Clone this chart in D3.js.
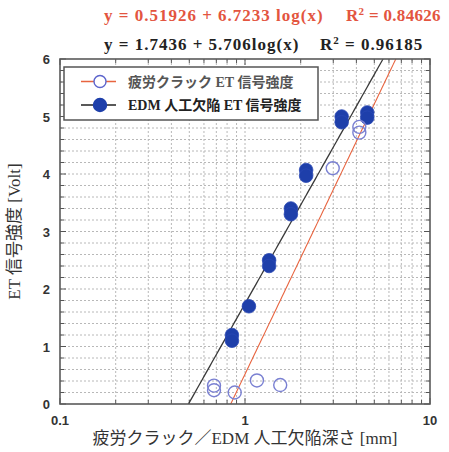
<!DOCTYPE html>
<html>
<head>
<meta charset="utf-8">
<script src="https://cdn.jsdelivr.net/npm/d3@7"></script>
<style>
  html, body { margin: 0; padding: 0; background: #fff; }
  svg { display: block; }
</style>
</head>
<body>
<svg id="chart" width="449" height="452"></svg>
<script>
// Fatigue crack measurements (open circles)
const crackDepth  = [0.68, 0.68, 0.88, 1.16, 1.55, 2.98, 4.15, 4.15];
const crackSignal = [0.32, 0.24, 0.20, 0.41, 0.33, 4.10, 4.82, 4.72];

// EDM artificial defect measurements (filled circles)
const edmDepth  = [0.85, 0.85, 1.05, 1.35, 1.35, 1.77, 1.77, 2.14, 2.14, 3.33, 3.33, 4.58, 4.58];
const edmSignal = [1.20, 1.10, 1.70, 2.50, 2.40, 3.40, 3.30, 4.07, 3.97, 5.00, 4.90, 5.07, 4.98];

// Log fits: y = a + b*log10(x)
const crackFit = [0.51926, 6.7233];
const edmFit   = [1.7436, 5.706];

const yTicks = [0, 1, 2, 3, 4, 5, 6];
const xTicks = [0.1, 1, 10];
const xTickLabels = ["0.1", "1", "10"];

const legendLabels = ["疲労クラック ET 信号強度", "EDM 人工欠陥 ET 信号強度"];
const xTitle = "疲労クラック／EDM 人工欠陥深さ [mm]";
const yTitle = "ET 信号強度 [Volt]";

const svg = d3.select("#chart");
const L = 60, R = 430, T = 59, B = 404;

const x = d3.scaleLog().domain([0.1, 10]).range([L, R]);
const y = d3.scaleLinear().domain([0, 6]).range([B, T]);

const serif = "'Liberation Serif', 'Noto Sans CJK JP', serif";
const sans = "'Liberation Sans', Arial, sans-serif";

// minor positions
const xMinor = [];
for (const dec of [0.1, 1]) for (let k = 1; k <= 9; k++) xMinor.push(dec * k);
xMinor.push(10);
const yMinor = d3.range(0, 30.01, 1).map(d => d / 5);

// grid
const grid = svg.append("g").attr("stroke", "#b8b8b8").attr("stroke-width", 1)
  .attr("stroke-dasharray", "2,2");
grid.selectAll("line.v").data(xMinor.filter(d => d > 0.1 && d < 10)).join("line")
  .attr("x1", d => x(d)).attr("x2", d => x(d)).attr("y1", T).attr("y2", B);
grid.selectAll("line.h").data(yMinor.filter(d => d > 0 && d < 6)).join("line")
  .attr("class", "h")
  .attr("x1", L).attr("x2", R).attr("y1", d => y(d)).attr("y2", d => y(d));

// ticks on all four sides, pointing inward
const tk = svg.append("g").attr("stroke", "#555").attr("stroke-width", 1);
yMinor.forEach(d => {
  const len = Number.isInteger(d) ? 6 : 4;
  tk.append("line").attr("x1", L).attr("x2", L + len).attr("y1", y(d)).attr("y2", y(d));
  tk.append("line").attr("x1", R).attr("x2", R - len).attr("y1", y(d)).attr("y2", y(d));
});
xMinor.forEach(d => {
  const major = xTicks.includes(+d.toFixed(6));
  const len = major ? 6 : 4;
  tk.append("line").attr("x1", x(d)).attr("x2", x(d)).attr("y1", B).attr("y2", B - len);
  tk.append("line").attr("x1", x(d)).attr("x2", x(d)).attr("y1", T).attr("y2", T + len);
});

// fit lines, clipped to the plot
svg.append("clipPath").attr("id", "plotClip").append("rect")
  .attr("x", L).attr("y", T).attr("width", R - L).attr("height", B - T);
const fitLine = (fit) => {
  const [a, b] = fit;
  const xs = d3.range(0, 201).map(i => Math.pow(10, -1 + i / 100));
  return d3.line().x(d => x(d)).y(d => y(a + b * Math.log10(d)))(xs);
};
const lines = svg.append("g").attr("clip-path", "url(#plotClip)").attr("fill", "none");
lines.append("path").attr("d", fitLine(crackFit)).attr("stroke", "#e8643f").attr("stroke-width", 1.1);
lines.append("path").attr("d", fitLine(edmFit)).attr("stroke", "#3a3a3a").attr("stroke-width", 1.3);

// points
svg.append("g").selectAll("circle").data(edmDepth.map((d, i) => [d, edmSignal[i]])).join("circle")
  .attr("cx", d => x(d[0])).attr("cy", d => y(d[1])).attr("r", 6.8)
  .attr("fill", "#1e3faa").attr("stroke", "#2a48b5").attr("stroke-width", 0.8);
svg.append("g").selectAll("circle").data(crackDepth.map((d, i) => [d, crackSignal[i]])).join("circle")
  .attr("cx", d => x(d[0])).attr("cy", d => y(d[1])).attr("r", 6.5)
  .attr("fill", "none").attr("stroke", "#7a80d2").attr("stroke-width", 1.4);

// frame
svg.append("rect").attr("x", L).attr("y", T).attr("width", R - L).attr("height", B - T)
  .attr("fill", "none").attr("stroke", "#5a5a5a").attr("stroke-width", 1.6);

// tick labels
svg.append("g").selectAll("text").data(yTicks).join("text")
  .attr("x", L - 10).attr("y", d => y(d) + 5).attr("text-anchor", "end")
  .attr("font-family", sans).attr("font-weight", "bold").attr("font-size", 13).attr("fill", "#333")
  .text(d => d);
svg.append("g").selectAll("text").data(xTicks).join("text")
  .attr("x", d => x(d)).attr("y", B + 21).attr("text-anchor", "middle")
  .attr("font-family", sans).attr("font-weight", "bold").attr("font-size", 13).attr("fill", "#333")
  .text((d, i) => xTickLabels[i]);

// axis titles
svg.append("text").attr("x", 245).attr("y", 444).attr("text-anchor", "middle")
  .attr("font-family", serif).attr("font-size", 17).attr("fill", "#333").text(xTitle);
svg.append("text").attr("transform", `translate(20,${(T + B) / 2}) rotate(-90)`)
  .attr("text-anchor", "middle").attr("font-family", serif).attr("font-size", 17)
  .attr("fill", "#333").text(yTitle);

// legend
const lg = svg.append("g");
lg.append("rect").attr("x", 64).attr("y", 67).attr("width", 254).attr("height", 53)
  .attr("fill", "#fff").attr("stroke", "#555").attr("stroke-width", 1.5);
const rows = [
  { yy: 81.5, color: "#e8643f", filled: false, text: legendLabels[0], tcol: "#555" },
  { yy: 105,  color: "#222",    filled: true,  text: legendLabels[1], tcol: "#222" }
];
rows.forEach(r => {
  lg.append("line").attr("x1", 81).attr("x2", 116).attr("y1", r.yy).attr("y2", r.yy)
    .attr("stroke", r.color).attr("stroke-width", 1.6);
  lg.append("circle").attr("cx", 100).attr("cy", r.yy).attr("r", r.filled ? 6.5 : 6)
    .attr("fill", r.filled ? "#1e3faa" : "#fff")
    .attr("stroke", r.filled ? "#1e3faa" : "#5c64cc").attr("stroke-width", 1.4);
  lg.append("text").attr("x", 128).attr("y", r.yy + 5).attr("font-family", serif)
    .attr("font-weight", "bold").attr("font-size", 14).attr("fill", r.tcol).text(r.text);
});

// fit equations above the plot
const eq = svg.append("g").attr("font-family", serif).attr("font-weight", "bold")
  .attr("font-size", 17).attr("letter-spacing", 1);
const eqRed = eq.append("text").attr("x", 104).attr("y", 21).attr("fill", "#e3553f");
eqRed.append("tspan").text(`y = ${crackFit[0]} + ${crackFit[1]} log(x)`);
eqRed.append("tspan").attr("x", 346).attr("letter-spacing", 0.3).text("R");
eqRed.append("tspan").attr("dy", -6).attr("font-size", 11).attr("letter-spacing", 0.3).text("2");
eqRed.append("tspan").attr("dy", 6).attr("letter-spacing", 0.3).text(" = 0.84626");
const eqBlk = eq.append("text").attr("x", 104).attr("y", 50).attr("fill", "#222");
eqBlk.append("tspan").text(`y = ${edmFit[0]} + ${edmFit[1]}log(x)`);
eqBlk.append("tspan").attr("x", 320).text("R");
eqBlk.append("tspan").attr("dy", -6).attr("font-size", 11).text("2");
eqBlk.append("tspan").attr("dy", 6).text(" = 0.96185");
</script>
</body>
</html>
